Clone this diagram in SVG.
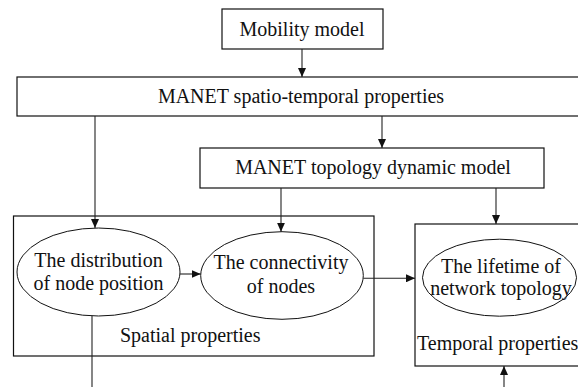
<svg xmlns="http://www.w3.org/2000/svg" width="578" height="387" viewBox="0 0 578 387">
<style>
.box{fill:#fff;stroke:#111;stroke-width:1.2}
.ell{fill:#fff;stroke:#111;stroke-width:1}
.t{font-family:"Liberation Serif","Times New Roman",serif;font-size:20px;fill:#111}
.c{text-anchor:middle}
.ln{fill:none;stroke:#222;stroke-width:1.1}
</style>
<defs>
<marker id="ah" markerUnits="userSpaceOnUse" markerWidth="9" markerHeight="8" refX="9" refY="4" orient="auto">
<path d="M0,0 L9,4 L0,8 z" fill="#111"/>
</marker>
</defs>
<rect width="578" height="387" fill="#fff"/>
<g id="mobility">
<rect class="box" x="222" y="9" width="161" height="40"/>
<text class="t c" x="302" y="36">Mobility model</text>
</g>
<g id="spatiotemporal">
<rect class="box" x="17" y="77" width="575" height="39"/>
<text class="t c" x="301" y="103">MANET spatio-temporal properties</text>
</g>
<g id="topology">
<rect class="box" x="200" y="148" width="344" height="40"/>
<text class="t c" x="373" y="174">MANET topology dynamic model</text>
</g>
<g id="spatial">
<rect class="box" x="13.5" y="216" width="360.5" height="140"/>
<text class="t" x="120" y="342">Spatial properties</text>
</g>
<g id="distribution">
<ellipse class="ell" cx="98.5" cy="272" rx="81.5" ry="44"/>
<text class="t c" x="98.5" y="267">The distribution</text>
<text class="t c" x="98.5" y="290">of node position</text>
</g>
<g id="connectivity">
<ellipse class="ell" cx="282" cy="275.5" rx="81.3" ry="43.8"/>
<text class="t c" x="281" y="269">The connectivity</text>
<text class="t c" x="281" y="292.5">of nodes</text>
</g>
<g id="temporal">
<rect class="box" x="415" y="224" width="175" height="142"/>
<text class="t" x="417" y="350">Temporal properties</text>
</g>
<g id="lifetime">
<ellipse class="ell" cx="499.5" cy="277.7" rx="77" ry="38.5"/>
<text class="t c" x="501" y="272.7">The lifetime of</text>
<text class="t c" x="501" y="295">network topology</text>
</g>
<g id="connectors">
<line class="ln" x1="302" y1="49" x2="302" y2="77" marker-end="url(#ah)"/>
<line class="ln" x1="95" y1="116" x2="95" y2="228" marker-end="url(#ah)"/>
<line class="ln" x1="382" y1="116" x2="382" y2="148" marker-end="url(#ah)"/>
<line class="ln" x1="281" y1="188" x2="281" y2="231.7" marker-end="url(#ah)"/>
<line class="ln" x1="496" y1="188" x2="496" y2="224" marker-end="url(#ah)"/>
<line class="ln" x1="180" y1="274" x2="200.7" y2="274" marker-end="url(#ah)"/>
<line class="ln" x1="363.3" y1="278.3" x2="415" y2="278.3" marker-end="url(#ah)"/>
<line class="ln" x1="92" y1="316" x2="92" y2="387"/>
<line class="ln" x1="504" y1="387" x2="504" y2="366" marker-end="url(#ah)"/>
</g>
</svg>
